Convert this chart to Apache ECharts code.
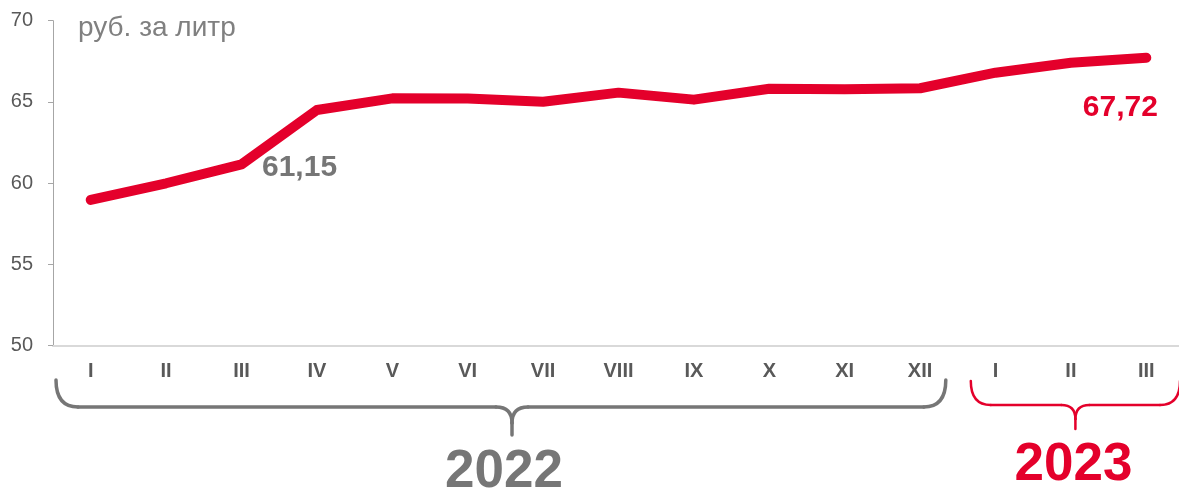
<!DOCTYPE html>
<html>
<head>
<meta charset="utf-8">
<script src="https://cdn.jsdelivr.net/npm/echarts@6/dist/echarts.min.js"></script>
<style>
html,body{margin:0;padding:0;background:#fff;}
#c{width:1179px;height:490px;}
</style>
</head>
<body>
<div id="c"></div>
<script>
const months = ['I','II','III','IV','V','VI','VII','VIII','IX','X','XI','XII','I','II','III'];
const periodKeys = ['2022-01','2022-02','2022-03','2022-04','2022-05','2022-06','2022-07','2022-08','2022-09','2022-10','2022-11','2022-12','2023-01','2023-02','2023-03'];
const prices = [58.96, 59.99, 61.15, 64.50, 65.22, 65.21, 65.01, 65.57, 65.14, 65.81, 65.78, 65.84, 66.80, 67.41, 67.72];
const yearLabels = ['2022', '2023'];
const unitTitle = 'руб. за литр';
const yTicks = {min: 50, max: 70, interval: 5};

const RED = '#e4002b';
const GRAY = '#767676';
const FONT = 'Liberation Sans, Arial, sans-serif';

const fmt = v => v.toFixed(2).replace('.', ',');

const seriesData = prices.map((v, i) => {
  if (i === 2) {
    return {value: v, label: {show: true, position: 'right', distance: 20, offset: [0, 3], color: GRAY}};
  }
  if (i === prices.length - 1) {
    return {value: v, label: {show: true, position: 'bottom', distance: 35, offset: [-26, 0], color: RED}};
  }
  return v;
});

const chart = echarts.init(document.getElementById('c'), null, {renderer: 'canvas'});
chart.setOption({
  animation: false,
  textStyle: {fontFamily: FONT},
  grid: {left: 53, right: -5, top: 20.7, bottom: 144.5, containLabel: false, outerBoundsMode: 'none'},
  title: {
    text: unitTitle, left: 73, top: 9,
    textStyle: {fontFamily: FONT, fontSize: 28, fontWeight: 'normal', color: '#808080'}
  },
  xAxis: {
    type: 'category',
    data: periodKeys,
    boundaryGap: true,
    axisLine: {show: true, lineStyle: {color: '#d9d9d9', width: 2}},
    axisTick: {show: false},
    splitLine: {show: false},
    axisLabel: {
      interval: 0, margin: 16,
      formatter: (val, idx) => months[idx],
      fontFamily: FONT, fontSize: 20, fontWeight: 'bold', color: '#595959'
    }
  },
  yAxis: {
    type: 'value',
    min: yTicks.min, max: yTicks.max, interval: yTicks.interval,
    axisLine: {show: true, lineStyle: {color: '#a6a6a6', width: 1}},
    axisTick: {show: true, inside: false, length: 5, lineStyle: {color: '#a6a6a6'}},
    splitLine: {show: false},
    axisLabel: {margin: 20, fontFamily: FONT, fontSize: 20, color: '#595959'}
  },
  series: [{
    type: 'line',
    data: seriesData,
    symbol: 'circle',
    symbolSize: 1,
    showSymbol: true,
    itemStyle: {color: RED},
    lineStyle: {color: RED, width: 10, cap: 'round', join: 'round'},
    label: {
      show: false,
      formatter: p => fmt(p.value),
      fontFamily: FONT, fontSize: 30, fontWeight: 'bold'
    },
    z: 3
  }]
});

// curly brace built from lines and quadratic curves
function brace(x1, x2, top, h, tipX, tipY, r, rt, color, lw) {
  const st = {stroke: color, lineWidth: lw, fill: null, lineCap: 'round'};
  const curve = (a, b, c, d, e, f) => ({type: 'bezierCurve', shape: {x1: a, y1: b, cpx1: c, cpy1: d, x2: e, y2: f}, style: st});
  const line = (a, b, c, d) => ({type: 'line', shape: {x1: a, y1: b, x2: c, y2: d}, style: st});
  return [
    curve(x1, top, x1, h, x1 + r, h),
    line(x1 + r, h, tipX - rt, h),
    curve(tipX - rt, h, tipX, h, tipX, h + rt),
    line(tipX, h + rt, tipX, tipY),
    curve(tipX + rt, h, tipX, h, tipX, h + rt),
    line(tipX + rt, h, x2 - r, h),
    curve(x2 - r, h, x2, h, x2, top)
  ];
}

const px = i => chart.convertToPixel({xAxisIndex: 0}, i);
const band = px(1) - px(0);
const g1L = px(0) - band / 2 + 3, g1R = px(11) + band / 2 - 12;
const g2L = px(12) - band / 2 + 13, g2R = px(14) + band / 2 - 4;
const tip1 = 512, tip2 = (g2L + g2R) / 2;

chart.setOption({
  graphic: [
    ...brace(g1L, g1R, 380, 407, tip1, 435, 22, 16, GRAY, 3.5),
    ...brace(g2L, g2R, 381, 405, tip2, 429, 20, 14, RED, 2.5),
    {type: 'text', x: tip1 - 8, y: 472,
     style: {text: yearLabels[0], fill: GRAY, font: 'bold 53px ' + FONT, textAlign: 'center', textVerticalAlign: 'middle'}},
    {type: 'text', x: tip2 - 2, y: 465,
     style: {text: yearLabels[1], fill: RED, font: 'bold 53px ' + FONT, textAlign: 'center', textVerticalAlign: 'middle'}}
  ]
});
</script>
</body>
</html>
